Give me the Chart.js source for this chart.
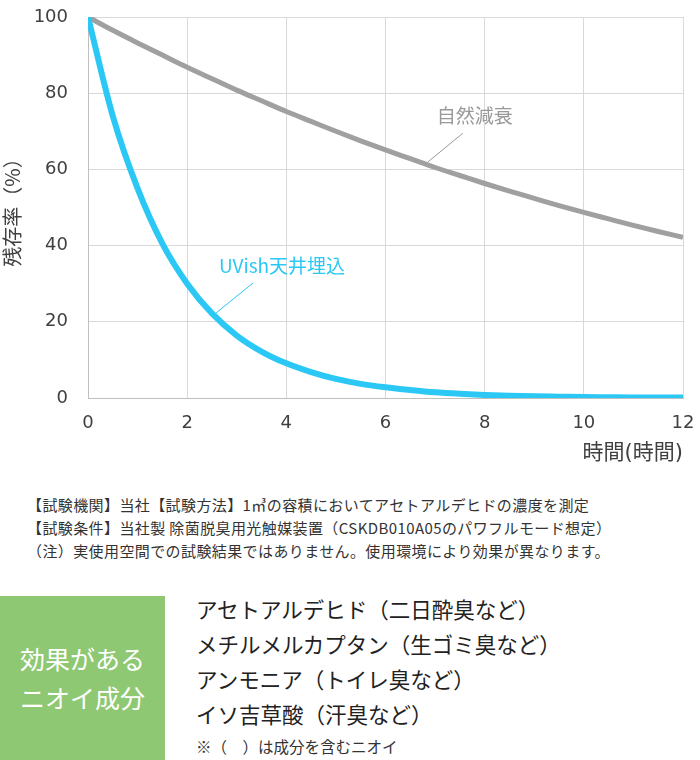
<!DOCTYPE html>
<html lang="ja">
<head>
<meta charset="utf-8">
<script src="https://cdn.jsdelivr.net/npm/chart.js@4/dist/chart.umd.min.js"></script>
<style>
  html, body { margin: 0; padding: 0; background: #fff; }
  body { width: 700px; height: 760px; position: relative; overflow: hidden;
         font-family: "Noto Sans CJK JP", "Noto Sans", sans-serif; color: #333; }
  #wrap { position: absolute; left: 0; top: 0; width: 700px; height: 470px; }
  .notes { position: absolute; left: 27px; top: 493px; font-size: 15px; line-height: 23px; color: #333; letter-spacing: 0.4px; }
  .box { position: absolute; left: 0; top: 596px; width: 165px; height: 164px; background: #8fc873;
         color: #fff; font-size: 25px; line-height: 39px; display: flex; align-items: center; justify-content: center; text-align: center; }
  .list { position: absolute; left: 196px; top: 591px; font-size: 21.5px; line-height: 35px; color: #222; }
  .foot { position: absolute; left: 196px; top: 735px; font-size: 15.5px; color: #333; }
</style>
</head>
<body>
<div id="wrap"><canvas id="c" width="700" height="470"></canvas></div>
<div class="notes">
  <div>【試験機関】当社【試験方法】1㎥の容積においてアセトアルデヒドの濃度を測定</div>
  <div>【試験条件】当社製 除菌脱臭用光触媒装置（CSKDB010A05のパワフルモード想定）</div>
  <div>（注）実使用空間での試験結果ではありません。使用環境により効果が異なります。</div>
</div>
<div class="box"><div>効果がある<br>ニオイ成分</div></div>
<div class="list">
  <div>アセトアルデヒド（二日酔臭など）</div>
  <div>メチルメルカプタン（生ゴミ臭など）</div>
  <div>アンモニア（トイレ臭など）</div>
  <div>イソ吉草酸（汗臭など）</div>
</div>
<div class="foot">※（　）は成分を含むニオイ</div>
<script>
// ---- data ----
const hours = [0, 0.5, 1, 1.5, 2, 2.5, 3, 3.5, 4, 4.5, 5, 5.5, 6, 6.5, 7, 7.5, 8, 8.5, 9, 9.5, 10, 10.5, 11, 11.5, 12];
const uvishValues = [100, 74, 55, 40.5, 30, 22.2, 16.4, 12.2, 9.1, 6.8, 5.0, 3.7, 2.8, 2.1, 1.5, 1.1, 0.8, 0.6, 0.45, 0.35, 0.25, 0.2, 0.15, 0.12, 0.1];
const naturalValues = [100, 96.5, 93.2, 90, 86.8, 83.8, 80.8, 78, 75.2, 72.6, 70, 67.5, 65.1, 62.8, 60.5, 58.4, 56.3, 54.3, 52.4, 50.5, 48.7, 47, 45.3, 43.7, 42.2];
const seriesNames = ["UVish天井埋込", "自然減衰"];
const xTicks = [0, 2, 4, 6, 8, 10, 12];
const yTicks = [0, 20, 40, 60, 80, 100];
const xTitle = "時間(時間)";
const yTitle = "残存率（%）";

const FONT = '"Noto Sans CJK JP", "Noto Sans", sans-serif';
const NUMFONT = '"DejaVu Sans", "Noto Sans CJK JP", sans-serif';
const BLUE = '#2bc8f5';
const GRAY = '#a0a0a0';

// callout labels, placed in data coordinates
const callouts = [
  { text: seriesNames[0], color: BLUE, tx: 2.64, ty: 34.6, align: 'left', from: [2.58, 22.3], to: [3.33, 30.2] },
  { text: seriesNames[1], color: '#999999', tx: 7.8, ty: 74, align: 'center', from: [6.85, 61.9], to: [7.56, 69.5] }
];

const calloutPlugin = {
  id: 'callouts',
  afterDatasetsDraw(chart) {
    const { ctx, scales: { x, y } } = chart;
    ctx.save();
    callouts.forEach(c => {
      ctx.strokeStyle = c.color;
      ctx.lineWidth = 1;
      ctx.beginPath();
      ctx.moveTo(x.getPixelForValue(c.from[0]), y.getPixelForValue(c.from[1]));
      ctx.lineTo(x.getPixelForValue(c.to[0]), y.getPixelForValue(c.to[1]));
      ctx.stroke();
      ctx.fillStyle = c.color;
      ctx.font = '19px ' + FONT;
      ctx.textAlign = c.align;
      ctx.textBaseline = 'middle';
      ctx.fillText(c.text, x.getPixelForValue(c.tx), y.getPixelForValue(c.ty));
    });
    ctx.restore();
  }
};

function zeroPad(s) { s.paddingTop = 0; s.paddingBottom = 0; s.paddingLeft = 0; s.paddingRight = 0; }

new Chart(document.getElementById('c'), {
  type: 'line',
  data: {
    datasets: [
      { label: seriesNames[0], data: hours.map((h, i) => ({ x: h, y: uvishValues[i] })),
        borderColor: BLUE, borderWidth: 6, pointRadius: 0, cubicInterpolationMode: 'monotone', fill: false },
      { label: seriesNames[1], data: hours.map((h, i) => ({ x: h, y: naturalValues[i] })),
        borderColor: GRAY, borderWidth: 5, pointRadius: 0, cubicInterpolationMode: 'monotone', fill: false }
    ]
  },
  options: {
    responsive: false,
    animation: false,
    devicePixelRatio: 1,
    layout: { padding: { left: 0, right: 17, top: 17, bottom: 0 } },
    plugins: { legend: { display: false }, tooltip: { enabled: false } },
    scales: {
      x: {
        type: 'linear', min: 0, max: 12,
        afterBuildTicks: s => { s.ticks = xTicks.map(v => ({ value: v })); },
        afterFit: s => { s.height = 72; zeroPad(s); },
        grid: { color: '#d9d9d9', lineWidth: 1, drawTicks: false },
        border: { display: true, color: '#bfbfbf', width: 1 },
        ticks: { padding: 15, color: '#404040', font: { family: NUMFONT, size: 18 }, maxRotation: 0 },
        title: { display: true, text: xTitle, align: 'end', color: '#404040', font: { family: NUMFONT, size: 21 }, padding: { top: 0, bottom: 4 } }
      },
      y: {
        min: 0, max: 100,
        afterBuildTicks: s => { s.ticks = yTicks.map(v => ({ value: v })); },
        afterFit: s => { s.width = 88; zeroPad(s); },
        grid: { color: '#d9d9d9', lineWidth: 1, drawTicks: false },
        border: { display: true, color: '#bfbfbf', width: 1 },
        ticks: { padding: 20, color: '#404040', font: { family: NUMFONT, size: 18 } },
        title: { display: true, text: yTitle, color: '#404040', font: { family: FONT, size: 20 }, padding: { top: 0, bottom: 0 } }
      }
    }
  },
  plugins: [calloutPlugin]
});
</script>
</body>
</html>
